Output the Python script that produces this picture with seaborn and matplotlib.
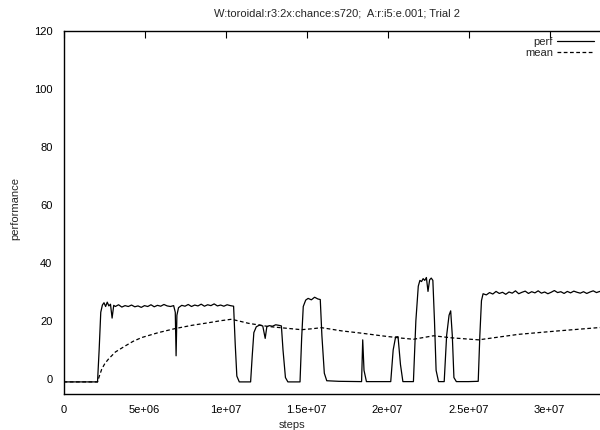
import numpy as np
import pandas as pd
import matplotlib
matplotlib.use("Agg")
import matplotlib.pyplot as plt
import seaborn as sns

# ---- data (steps in millions) ----
perf_steps_m = [
    0.0, 1.0, 2.1, 2.2, 2.3, 2.4, 2.5, 2.6, 2.7, 2.8, 2.9, 3.0, 3.1, 3.2, 3.4, 3.6, 3.8, 4.0,
    4.2, 4.4, 4.6, 4.8, 5.0, 5.2, 5.4, 5.6, 5.8, 6.0, 6.2, 6.4, 6.6, 6.8, 6.9, 6.95, 7.0, 7.1,
    7.3, 7.5, 7.7, 7.9, 8.1, 8.3, 8.5, 8.7, 8.9, 9.1, 9.3, 9.5, 9.7, 9.9, 10.1, 10.3, 10.5,
    10.6, 10.7, 10.85, 11.2, 11.55, 11.65, 11.75, 11.9, 12.1, 12.3, 12.45, 12.55, 12.7, 12.9,
    13.1, 13.3, 13.45, 13.55, 13.7, 13.85, 14.2, 14.6, 14.7, 14.8, 14.95, 15.1, 15.3, 15.5,
    15.7, 15.85, 15.95, 16.1, 16.25, 17.0, 18.4, 18.47, 18.55, 18.7, 19.5, 20.2, 20.35, 20.5,
    20.65, 20.8, 20.95, 21.3, 21.6, 21.75, 21.9, 22.0, 22.1, 22.2, 22.3, 22.4, 22.5, 22.6,
    22.7, 22.8, 22.9, 23.0, 23.15, 23.5, 23.65, 23.8, 23.9, 24.0, 24.1, 24.25, 25.0, 25.6,
    25.7, 25.8, 25.9, 26.1, 26.3, 26.5, 26.7, 26.9, 27.1, 27.3, 27.5, 27.7, 27.9, 28.1,
    28.3, 28.5, 28.7, 28.9, 29.1, 29.3, 29.5, 29.7, 29.9, 30.1, 30.3, 30.5, 30.7, 30.9,
    31.1, 31.3, 31.5, 31.7, 31.9, 32.1, 32.3, 32.5, 32.7, 32.9, 33.1, 33.3, 33.5, 33.7, 34.0,
]
perf_values = [
    -1.0, -1.0, -1.0, 10.0, 23.0, 25.5, 26.3, 25.0, 26.5, 25.2, 25.8, 21.0, 25.4, 25.0, 25.6, 24.8, 25.3, 25.0,
    25.5, 24.9, 25.2, 24.7, 25.3, 25.0, 25.6, 24.9, 25.4, 25.1, 25.7, 25.2, 25.0, 25.3, 23.0, 8.0, 22.0, 24.6,
    25.4, 25.1, 25.7, 25.0, 25.5, 25.2, 25.8, 25.1, 25.6, 25.3, 25.9, 25.2, 25.5, 25.1, 25.6, 25.3, 25.1,
    12.0, 1.0, -1.0, -1.0, -1.0, 8.0, 16.0, 18.0, 18.6, 18.3, 14.0, 18.0, 18.4, 18.2,
    18.7, 18.5, 18.3, 10.0, 0.5, -1.0, -1.0, -1.0, 14.0, 25.0, 27.2, 27.8, 27.3, 28.2,
    27.6, 27.4, 15.0, 2.0, -0.6, -0.8, -0.9, 13.5, 3.0, -0.9, -0.9, -0.9, 10.0, 14.5,
    14.6, 5.0, -0.9, -0.9, -0.9, 20.0, 32.0, 34.0, 33.6, 34.6, 34.0, 35.0, 30.2, 34.2,
    34.8, 34.0, 20.0, 3.0, -0.9, -0.9, 15.0, 22.0, 23.5, 15.0, 0.5, -0.9, -0.9, -0.8,
    15.0, 27.0, 29.4, 29.0, 29.8, 29.3, 30.2, 29.5, 29.9, 29.2, 30.0, 29.6, 30.4, 29.4,
    29.9, 30.3, 29.5, 30.1, 29.7, 30.4, 29.6, 30.0, 29.4, 29.9, 30.5, 29.8, 30.1, 29.5,
    30.2, 29.7, 30.3, 29.9, 29.6, 30.1, 29.5, 30.0, 30.4, 29.8, 30.2, 29.6, 30.1, 29.9, 30.0,
]
mean_steps_m = [
    0.0, 2.1, 2.2, 2.36, 2.55, 2.78, 3.2, 3.81, 4.3, 4.83, 5.86, 6.9, 7.92, 8.95, 9.7,
    10.37, 10.9, 11.42, 12.65, 13.58, 14.69, 15.3, 15.93, 17.16, 18.4, 19.63, 20.86,
    21.6, 22.84, 23.95, 25.62, 28.09, 30.56, 33.0, 34.0,
]
mean_values = [
    -1.0, -1.0, 0.8, 3.4, 5.3, 6.9, 9.3, 11.4, 13.0, 14.3, 16.0, 17.4, 18.5, 19.4, 20.1,
    20.6, 19.9, 19.2, 18.1, 17.6, 17.0, 17.3, 17.7, 16.6, 15.8, 14.9, 14.1,
    13.7, 14.9, 14.2, 13.5, 15.4, 16.6, 17.7, 18.0,
]
x_ticks = [0, 5e6, 1e7, 1.5e7, 2e7, 2.5e7, 3e7]
x_tick_labels = ["0", "5e+06", "1e+07", "1.5e+07", "2e+07", "2.5e+07", "3e+07"]
y_ticks = [0, 20, 40, 60, 80, 100, 120]

perf_df = pd.DataFrame({"steps": np.array(perf_steps_m) * 1e6, "performance": perf_values})
mean_df = pd.DataFrame({"steps": np.array(mean_steps_m) * 1e6, "performance": mean_values})

sns.set_theme(style="white")
plt.rcParams["font.family"] = ["Liberation Sans", "DejaVu Sans"]

fig = plt.figure(figsize=(6.0, 4.3), dpi=100)
left_px = 63.5
right_px = 63.5 + 35 * 16.2
width_px = right_px - left_px
left = left_px / 600
bottom = 1 - 393.5 / 430
top = 1 - 31.0 / 430
ax = fig.add_axes([left, bottom, width_px / 600, top - bottom])

sns.lineplot(data=perf_df, x="steps", y="performance", ax=ax, color="black",
             linewidth=0.9, label="perf", estimator=None, sort=False)
sns.lineplot(data=mean_df, x="steps", y="performance", ax=ax, color="black",
             linewidth=0.9, linestyle=(0, (3, 2)), label="mean", estimator=None, sort=False)

ax.set_xlim(0, 3.5e7)
ax.set_ylim(-5, 120)
ax.set_xticks(x_ticks)
ax.set_xticklabels(x_tick_labels)
ax.set_yticks(y_ticks)
ax.tick_params(axis="both", which="both", direction="in", length=5, width=0.8,
               top=True, right=True, labelsize=8, pad=8, colors="black")
for s in ax.spines.values():
    s.set_visible(True)
    s.set_color("black")
    s.set_linewidth(1.0)

ax.set_xlabel("steps", fontsize=8)
ax.xaxis.set_label_coords((292.5 - left_px) / width_px, -(425 - 393.5) / (393.5 - 31.0))
ax.set_ylabel("performance", fontsize=8)
ax.yaxis.set_label_coords(-(left_px - 15) / width_px, (393.5 - 208) / (393.5 - 31.0))
ax.yaxis.label.set_va("center")
ax.xaxis.label.set_va("center")
fig.text(337.5 / 600, 1 - 13 / 430, "W:toroidal:r3:2x:chance:s720;  A:r:i5:e.001; Trial 2",
         ha="center", va="center", fontsize=8)

ax.legend(loc="upper right", bbox_to_anchor=(594 / 600, 1 - 37 / 430),
          bbox_transform=fig.transFigure, frameon=False, markerfirst=False,
          fontsize=8, handlelength=3.3, handletextpad=0.4, labelspacing=0.1,
          borderpad=0, borderaxespad=0)

fig.savefig("out.png", dpi=100)
